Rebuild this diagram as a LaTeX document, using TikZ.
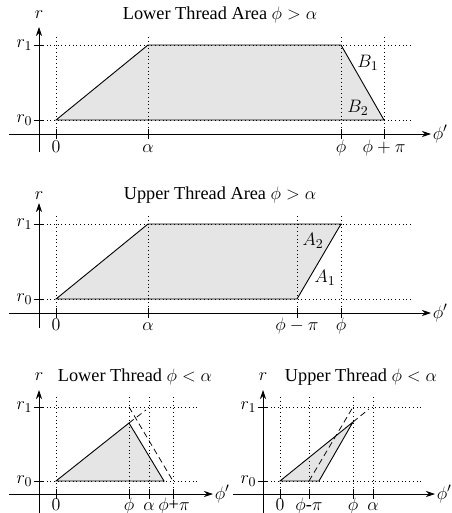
\documentclass[tikz,border=0pt]{standalone}
\usepackage{fontspec}
\setmainfont{Liberation Serif}
\usetikzlibrary{arrows.meta}
\begin{document}
\begin{tikzpicture}[x=0.6667pt,y=-0.6667pt,
  every node/.style={font=\fontsize{12.2}{14}\selectfont,inner sep=1pt},
  axis/.style={line width=0.5pt,-{Stealth[length=6pt,width=4pt]}},
  tick/.style={line width=0.6pt},
  guide/.style={dotted,line width=0.5pt},
  edge/.style={line width=0.6pt},
  dashline/.style={line width=0.5pt,dash pattern=on 4pt off 2.5pt},
  area/.style={fill=black!10},
  ticklab/.style={anchor=base},
  ylab/.style={anchor=east}]
\useasboundingbox (0,0) rectangle (452,513);

% ================= Panel 1 =================
\coordinate (p1o) at (56,120);
\coordinate (p1a) at (148,45);
\coordinate (p1f) at (341,45);
\coordinate (p1g) at (384,120);
\fill[area] (p1o) -- (p1a) -- (p1f) -- (p1g) -- cycle;
\draw[guide] (39,45) -- (413,45);
\draw[guide] (39,120) -- (413,120);
\foreach \x in {56,148,341,384} \draw[guide] (\x,37) -- (\x,134);
\draw[edge] (p1o) -- (p1a) -- (p1f) -- (p1g) -- cycle;
\draw[axis] (9,134) -- (431,134);
\draw[axis] (39,152) -- (39,27);
\foreach \x in {56,148,341,384} \draw[tick] (\x,129) -- (\x,139);
\draw[tick] (34,45) -- (44,45);
\draw[tick] (34,120) -- (44,120);
\node (t1) at (220,15) {Lower Thread Area $\phi>\alpha$};
\node (r1y) at (39,15) {$r$};
\node[ylab] (r1a) at (34,45) {$r_1$};
\node[ylab] (r1b) at (34,120) {$r_0$};
\node[anchor=west] (f1) at (431,134) {$\phi'$};
\node[ticklab] (l10) at (56,152) {$0$};
\node[ticklab] (l11) at (148,152) {$\alpha$};
\node[ticklab] (l12) at (341,152) {$\phi$};
\node[ticklab] (l13) at (384,152) {$\phi+\pi$};
\node (b1) at (368,63) {$B_1$};
\node (b2) at (358,108) {$B_2$};

% ================= Panel 2 =================
\coordinate (p2o) at (56,299);
\coordinate (p2a) at (148,224);
\coordinate (p2f) at (341,224);
\coordinate (p2g) at (297,299);
\fill[area] (p2o) -- (p2a) -- (p2f) -- (p2g) -- cycle;
\draw[guide] (39,224) -- (413,224);
\draw[guide] (39,299) -- (413,299);
\foreach \x in {56,148,297,341} \draw[guide] (\x,216) -- (\x,313);
\draw[edge] (p2o) -- (p2a) -- (p2f) -- (p2g) -- cycle;
\draw[axis] (9,313) -- (431,313);
\draw[axis] (39,328) -- (39,203);
\foreach \x in {56,148,297,341} \draw[tick] (\x,308) -- (\x,318);
\draw[tick] (34,224) -- (44,224);
\draw[tick] (34,299) -- (44,299);
\node (t2) at (220,195) {Upper Thread Area $\phi>\alpha$};
\node (r2y) at (39,196) {$r$};
\node[ylab] (r2a) at (34,224) {$r_1$};
\node[ylab] (r2b) at (34,299) {$r_0$};
\node[anchor=west] (f2) at (431,313) {$\phi'$};
\node[ticklab] (l20) at (56,330) {$0$};
\node[ticklab] (l21) at (148,330) {$\alpha$};
\node[ticklab] (l22) at (297,330) {$\phi-\pi$};
\node[ticklab] (l23) at (341,330) {$\phi$};
\node (a2) at (313,241) {$A_2$};
\node (a1) at (325,278) {$A_1$};

% ================= Panel 3 =================
\coordinate (p3o) at (56,481);
\coordinate (p3p) at (129,423);
\coordinate (p3q) at (164,481);
\coordinate (p3t) at (129,407);
\coordinate (p3u) at (173,481);
\coordinate (p3e) at (146,410);
\fill[area] (p3o) -- (p3p) -- (p3q) -- cycle;
\draw[guide] (39,407) -- (200,407);
\draw[guide] (39,481) -- (200,481);
\foreach \x in {56,129,149,173} \draw[guide] (\x,397) -- (\x,494);
\draw[edge] (p3o) -- (p3p) -- (p3q) -- cycle;
\draw[dashline] (p3t) -- (p3u);
\draw[dashline] (p3p) -- (p3e);
\draw[axis] (9,494) -- (213,494);
\draw[axis] (39,513) -- (39,390);
\foreach \x in {56,129,149,173} \draw[tick] (\x,489) -- (\x,499);
\draw[tick] (34,407) -- (44,407);
\draw[tick] (34,481) -- (44,481);
\node (t3) at (135,377) {Lower Thread $\phi<\alpha$};
\node (r3y) at (39,377) {$r$};
\node[ylab] (r3a) at (34,407) {$r_1$};
\node[ylab] (r3b) at (34,481) {$r_0$};
\node[anchor=west] (f3) at (213,494) {$\phi'$};
\node[ticklab] (l30) at (56,510) {$0$};
\node[ticklab] (l31) at (129,510) {$\phi$};
\node[ticklab] (l32) at (149,510) {$\alpha$};
\node[ticklab] (l33) at (174,510) {$\phi$+$\pi$};

% ================= Panel 4 =================
\coordinate (p4o) at (280,481);
\coordinate (p4p) at (353,422);
\coordinate (p4q) at (319,481);
\coordinate (p4t) at (353,407);
\coordinate (p4u) at (309,481);
\coordinate (p4e) at (369,409);
\fill[area] (p4o) -- (p4p) -- (p4q) -- cycle;
\draw[guide] (263,407) -- (422,407);
\draw[guide] (263,481) -- (422,481);
\foreach \x in {280,309,353,373} \draw[guide] (\x,397) -- (\x,494);
\draw[edge] (p4o) -- (p4p) -- (p4q) -- cycle;
\draw[dashline] (p4u) -- (p4t);
\draw[dashline] (p4p) -- (p4e);
\draw[axis] (233,494) -- (435,494);
\draw[axis] (263,513) -- (263,390);
\foreach \x in {280,309,353,373} \draw[tick] (\x,489) -- (\x,499);
\draw[tick] (258,407) -- (268,407);
\draw[tick] (258,481) -- (268,481);
\node (t4) at (361,377) {Upper Thread $\phi<\alpha$};
\node (r4y) at (263,377) {$r$};
\node[ylab] (r4a) at (258,407) {$r_1$};
\node[ylab] (r4b) at (258,481) {$r_0$};
\node[anchor=west] (f4) at (435,494) {$\phi'$};
\node[ticklab] (l40) at (280,510) {$0$};
\node[ticklab] (l41) at (309,510) {$\phi$-$\pi$};
\node[ticklab] (l42) at (353,510) {$\phi$};
\node[ticklab] (l43) at (373,510) {$\alpha$};
\end{tikzpicture}
\end{document}
